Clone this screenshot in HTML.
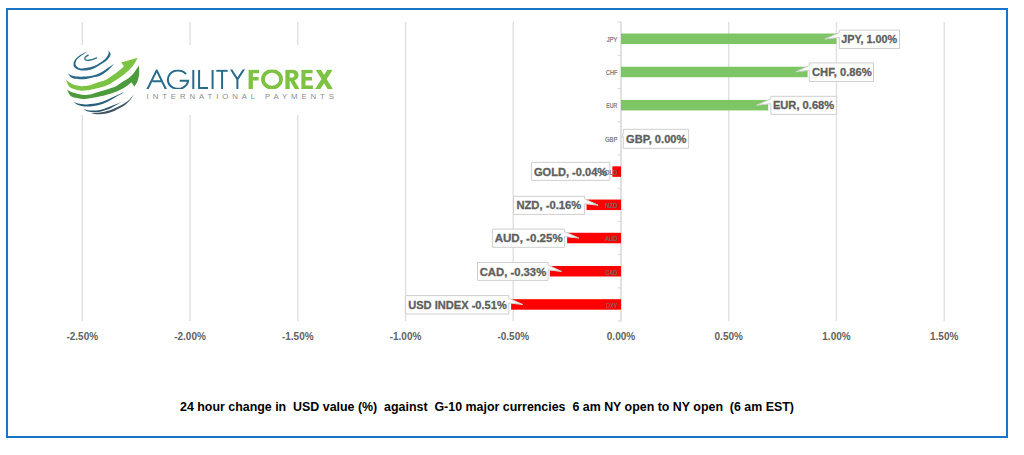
<!DOCTYPE html>
<html><head><meta charset="utf-8"><style>
html,body{margin:0;padding:0;background:#fff;}
body{width:1024px;height:455px;overflow:hidden;position:relative;}
svg{position:absolute;left:0;top:0;font-family:"Liberation Sans",sans-serif;}
</style></head><body>
<svg width="1024" height="455" viewBox="0 0 1024 455">
<rect x="0" y="0" width="1024" height="455" fill="#fff"/>
<rect x="81.60" y="22" width="1.4" height="299" fill="#e0e0e0"/>
<rect x="189.34" y="22" width="1.4" height="299" fill="#e0e0e0"/>
<rect x="297.08" y="22" width="1.4" height="299" fill="#e0e0e0"/>
<rect x="404.82" y="22" width="1.4" height="299" fill="#e0e0e0"/>
<rect x="512.56" y="22" width="1.4" height="299" fill="#e0e0e0"/>
<rect x="620.30" y="22" width="1.4" height="299" fill="#e0e0e0"/>
<rect x="728.04" y="22" width="1.4" height="299" fill="#e0e0e0"/>
<rect x="835.78" y="22" width="1.4" height="299" fill="#e0e0e0"/>
<rect x="943.52" y="22" width="1.4" height="299" fill="#e0e0e0"/>
<rect x="50" y="45" width="300" height="70" fill="#fff"/>
<rect x="620.5" y="21.5" width="1" height="300" fill="#d9d9d9"/>
<rect x="617.5" y="21.65" width="3.5" height="1" fill="#d9d9d9"/>
<rect x="617.5" y="54.86" width="3.5" height="1" fill="#d9d9d9"/>
<rect x="617.5" y="88.07" width="3.5" height="1" fill="#d9d9d9"/>
<rect x="617.5" y="121.28" width="3.5" height="1" fill="#d9d9d9"/>
<rect x="617.5" y="154.49" width="3.5" height="1" fill="#d9d9d9"/>
<rect x="617.5" y="187.70" width="3.5" height="1" fill="#d9d9d9"/>
<rect x="617.5" y="220.91" width="3.5" height="1" fill="#d9d9d9"/>
<rect x="617.5" y="254.12" width="3.5" height="1" fill="#d9d9d9"/>
<rect x="617.5" y="287.33" width="3.5" height="1" fill="#d9d9d9"/>
<rect x="617.5" y="320.54" width="3.5" height="1" fill="#d9d9d9"/>
<rect x="621.00" y="33.50" width="215.48" height="10.5" fill="#7ec566"/>
<rect x="621.00" y="66.72" width="186.61" height="10.5" fill="#7ec566"/>
<rect x="621.00" y="99.93" width="147.17" height="10.5" fill="#7ec566"/>
<rect x="612.38" y="166.34" width="8.62" height="10.5" fill="#ff0000"/>
<rect x="586.52" y="199.56" width="34.48" height="10.5" fill="#ff0000"/>
<rect x="567.13" y="232.77" width="53.87" height="10.5" fill="#ff0000"/>
<rect x="549.89" y="265.98" width="71.11" height="10.5" fill="#ff0000"/>
<rect x="511.11" y="299.19" width="109.89" height="10.5" fill="#ff0000"/>
<path d="M839.3,30.1 H899.5 V48.5 H839.3 V37.50 L824.88,39.00 L839.3,32.70 Z" fill="#fff" stroke="#cfcfcf" stroke-width="1"/>
<text x="841.2" y="43.05" font-size="11" font-weight="bold" fill="#5e5e5e" stroke="#5e5e5e" stroke-width="0.3" textLength="56.0" lengthAdjust="spacingAndGlyphs">JPY, 1.00%</text>
<path d="M809.3,62.9 H873.5 V81.5 H809.3 V70.30 L796.01,71.80 L809.3,65.50 Z" fill="#fff" stroke="#cfcfcf" stroke-width="1"/>
<text x="812.0" y="76.27" font-size="11" font-weight="bold" fill="#5e5e5e" stroke="#5e5e5e" stroke-width="0.3" textLength="59.6" lengthAdjust="spacingAndGlyphs">CHF, 0.86%</text>
<path d="M770.9,96.3 H836.6 V114.4 H770.9 V103.70 L756.57,105.20 L770.9,98.90 Z" fill="#fff" stroke="#cfcfcf" stroke-width="1"/>
<text x="772.9" y="109.48" font-size="11" font-weight="bold" fill="#5e5e5e" stroke="#5e5e5e" stroke-width="0.3" textLength="61.3" lengthAdjust="spacingAndGlyphs">EUR, 0.68%</text>
<path d="M623.3,129.3 H688.6 V148.3 H623.3 V136.70 L621.60,137.30 L623.3,133.90 Z" fill="#fff" stroke="#cfcfcf" stroke-width="1"/>
<text x="626.0" y="142.69" font-size="11" font-weight="bold" fill="#5e5e5e" stroke="#5e5e5e" stroke-width="0.3" textLength="60.4" lengthAdjust="spacingAndGlyphs">GBP, 0.00%</text>
<path d="M531.4,162.4 H609.9 V180.4 H531.4 Z" fill="#fff" stroke="#cfcfcf" stroke-width="1"/>
<text x="533.9" y="175.90" font-size="11" font-weight="bold" fill="#5e5e5e" stroke="#5e5e5e" stroke-width="0.3" textLength="73.3" lengthAdjust="spacingAndGlyphs">GOLD, -0.04%</text>
<path d="M513.5,196.3 H584.6 V198.90 L598.12,205.20 L584.6,203.70 V214.4 H513.5 Z" fill="#fff" stroke="#cfcfcf" stroke-width="1"/>
<text x="516.4" y="209.11" font-size="11" font-weight="bold" fill="#5e5e5e" stroke="#5e5e5e" stroke-width="0.3" textLength="64.8" lengthAdjust="spacingAndGlyphs">NZD, -0.16%</text>
<path d="M492.4,229.1 H564.6 V231.70 L578.73,238.00 L564.6,236.50 V247.3 H492.4 Z" fill="#fff" stroke="#cfcfcf" stroke-width="1"/>
<text x="494.7" y="242.32" font-size="11" font-weight="bold" fill="#5e5e5e" stroke="#5e5e5e" stroke-width="0.3" textLength="68.0" lengthAdjust="spacingAndGlyphs">AUD, -0.25%</text>
<path d="M477.5,262.5 H548.1 V265.10 L561.49,271.40 L548.1,269.90 V280.4 H477.5 Z" fill="#fff" stroke="#cfcfcf" stroke-width="1"/>
<text x="479.7" y="275.53" font-size="11" font-weight="bold" fill="#5e5e5e" stroke="#5e5e5e" stroke-width="0.3" textLength="66.5" lengthAdjust="spacingAndGlyphs">CAD, -0.33%</text>
<path d="M405.6,295.6 H508.8 V298.20 L522.71,304.50 L508.8,303.00 V314.0 H405.6 Z" fill="#fff" stroke="#cfcfcf" stroke-width="1"/>
<text x="408.2" y="308.74" font-size="11" font-weight="bold" fill="#5e5e5e" stroke="#5e5e5e" stroke-width="0.3" textLength="98.6" lengthAdjust="spacingAndGlyphs">USD INDEX -0.51%</text>
<text x="617.3" y="42.05" text-anchor="end" font-size="6.6" fill="#6e6e6e" stroke="#6e6e6e" stroke-width="0.2" textLength="10.5" lengthAdjust="spacingAndGlyphs">JPY</text>
<text x="617.3" y="75.27" text-anchor="end" font-size="6.6" fill="#6e6e6e" stroke="#6e6e6e" stroke-width="0.2" textLength="11.3" lengthAdjust="spacingAndGlyphs">CHF</text>
<text x="617.3" y="108.48" text-anchor="end" font-size="6.6" fill="#6e6e6e" stroke="#6e6e6e" stroke-width="0.2" textLength="11" lengthAdjust="spacingAndGlyphs">EUR</text>
<text x="617.3" y="141.69" text-anchor="end" font-size="6.6" fill="#6e6e6e" stroke="#6e6e6e" stroke-width="0.2" textLength="12.2" lengthAdjust="spacingAndGlyphs">GBP</text>
<text x="617.3" y="174.90" text-anchor="end" font-size="6.6" fill="#6e6e6e" stroke="#6e6e6e" stroke-width="0.2" textLength="17.5" lengthAdjust="spacingAndGlyphs">GOLD</text>
<text x="617.3" y="208.11" text-anchor="end" font-size="6.6" fill="#6e6e6e" stroke="#6e6e6e" stroke-width="0.2" textLength="12.2" lengthAdjust="spacingAndGlyphs">NZD</text>
<text x="617.3" y="241.32" text-anchor="end" font-size="6.6" fill="#6e6e6e" stroke="#6e6e6e" stroke-width="0.2" textLength="12" lengthAdjust="spacingAndGlyphs">AUD</text>
<text x="617.3" y="274.53" text-anchor="end" font-size="6.6" fill="#6e6e6e" stroke="#6e6e6e" stroke-width="0.2" textLength="11.8" lengthAdjust="spacingAndGlyphs">CAD</text>
<text x="617.3" y="307.74" text-anchor="end" font-size="6.6" fill="#6e6e6e" stroke="#6e6e6e" stroke-width="0.2" textLength="11" lengthAdjust="spacingAndGlyphs">DXY</text>
<text x="82.30" y="339.6" text-anchor="middle" font-size="10" font-weight="bold" fill="#626262">-2.50%</text>
<text x="190.04" y="339.6" text-anchor="middle" font-size="10" font-weight="bold" fill="#626262">-2.00%</text>
<text x="297.78" y="339.6" text-anchor="middle" font-size="10" font-weight="bold" fill="#626262">-1.50%</text>
<text x="405.52" y="339.6" text-anchor="middle" font-size="10" font-weight="bold" fill="#626262">-1.00%</text>
<text x="513.26" y="339.6" text-anchor="middle" font-size="10" font-weight="bold" fill="#626262">-0.50%</text>
<text x="621.00" y="339.6" text-anchor="middle" font-size="10" font-weight="bold" fill="#626262">0.00%</text>
<text x="728.74" y="339.6" text-anchor="middle" font-size="10" font-weight="bold" fill="#626262">0.50%</text>
<text x="836.48" y="339.6" text-anchor="middle" font-size="10" font-weight="bold" fill="#626262">1.00%</text>
<text x="944.22" y="339.6" text-anchor="middle" font-size="10" font-weight="bold" fill="#626262">1.50%</text>
<text x="180" y="410.8" font-size="11.9" font-weight="bold" fill="#000" textLength="614" lengthAdjust="spacingAndGlyphs" style="white-space:pre">24 hour change in  USD value (%)  against  G-10 major currencies  6 am NY open to NY open  (6 am EST)</text>
<g id="logo">
<path d="M88.2,55.2 C86,56.3 84.3,58 85,59.4 C86.3,61 91.5,60.6 96.6,57.9" fill="none" stroke="#2d6e8a" stroke-width="1.3" stroke-linecap="round"/>
<path d="M87.6,51.4 C86.50,51.92 82.93,53.32 81.00,54.50 C79.07,55.68 77.23,57.08 76.00,58.50 C74.77,59.92 73.83,61.52 73.60,63.00 C73.37,64.48 73.33,66.17 74.60,67.40 C75.87,68.63 78.17,70.15 81.20,70.40 C84.23,70.65 89.30,70.03 92.80,68.90 C96.30,67.77 99.73,65.17 102.20,63.60 C104.67,62.03 106.20,61.07 107.60,59.50 C109.00,57.93 110.52,55.73 110.60,54.20 C110.68,52.67 108.52,50.95 108.10,50.30 C108.18,50.85 109.02,52.23 108.60,53.60 C108.18,54.97 106.95,57.00 105.60,58.50 C104.25,60.00 102.68,61.25 100.50,62.60 C98.32,63.95 95.67,65.63 92.50,66.60 C89.33,67.57 84.17,68.47 81.50,68.40 C78.83,68.33 77.48,67.17 76.50,66.20 C75.52,65.23 75.25,64.00 75.60,62.60 C75.95,61.20 76.60,59.67 78.60,57.80 C80.60,55.93 86.10,52.47 87.60,51.40 Z" fill="#2a6a88"/>
<path d="M67.8,73.0 C68.25,73.63 69.30,75.83 70.50,76.80 C71.70,77.77 72.78,78.40 75.00,78.80 C77.22,79.20 80.83,79.43 83.80,79.20 C86.77,78.97 90.10,77.97 92.80,77.40 C95.50,76.83 97.52,76.93 100.00,75.80 C102.48,74.67 105.30,72.67 107.70,70.60 C110.10,68.53 113.28,64.60 114.40,63.40 C113.17,64.23 109.40,66.82 107.00,68.40 C104.60,69.98 102.37,71.73 100.00,72.90 C97.63,74.07 95.50,74.78 92.80,75.40 C90.10,76.02 86.77,76.47 83.80,76.60 C80.83,76.73 77.22,76.47 75.00,76.20 C72.78,75.93 71.70,75.53 70.50,75.00 C69.30,74.47 68.25,73.33 67.80,73.00 Z" fill="#2a6a88"/>
<path d="M65.9,79.2 C66.40,79.65 67.57,80.98 68.90,81.90 C70.23,82.82 72.05,84.02 73.90,84.70 C75.75,85.38 78.23,85.77 80.00,86.00 C81.77,86.23 82.83,86.23 84.50,86.10 C86.17,85.97 88.08,85.70 90.00,85.20 C91.92,84.70 93.33,84.00 96.00,83.10 C98.67,82.20 103.33,81.02 106.00,79.80 C108.67,78.58 109.90,77.25 112.00,75.80 C114.10,74.35 116.62,72.70 118.60,71.10 C120.58,69.50 123.02,67.02 123.90,66.20 L121.2,62.6 L137.6,57.8 C137.17,58.63 135.97,61.23 135.00,62.80 C134.03,64.37 133.43,65.40 131.80,67.20 C130.17,69.00 127.40,71.73 125.20,73.60 C123.00,75.47 120.80,76.93 118.60,78.40 C116.40,79.87 114.10,81.17 112.00,82.40 C109.90,83.63 108.67,84.77 106.00,85.80 C103.33,86.83 98.67,87.92 96.00,88.60 C93.33,89.28 92.00,89.60 90.00,89.90 C88.00,90.20 85.67,90.28 84.00,90.40 C82.33,90.52 81.68,90.83 80.00,90.60 C78.32,90.37 75.75,89.73 73.90,89.00 C72.05,88.27 70.23,87.83 68.90,86.20 C67.57,84.57 66.40,80.37 65.90,79.20 Z" fill="#7cc243"/>
<path d="M66.9,89.3 C67.52,89.72 68.88,91.05 70.60,91.80 C72.32,92.55 75.00,93.27 77.20,93.80 C79.40,94.33 81.67,94.87 83.80,95.00 C85.93,95.13 87.97,94.98 90.00,94.60 C92.03,94.22 93.33,93.50 96.00,92.70 C98.67,91.90 102.67,90.88 106.00,89.80 C109.33,88.72 113.35,87.45 116.00,86.20 C118.65,84.95 119.82,83.63 121.90,82.30 C123.98,80.97 126.52,79.73 128.50,78.20 C130.48,76.67 132.08,75.20 133.80,73.10 C135.52,71.00 137.97,66.85 138.80,65.60 C138.87,66.97 139.43,71.15 139.20,73.80 C138.97,76.45 138.20,79.37 137.40,81.50 C136.60,83.63 134.90,85.75 134.40,86.60 L131.3,82.2 C130.25,83.05 127.55,85.70 125.00,87.30 C122.45,88.90 119.17,90.53 116.00,91.80 C112.83,93.07 109.33,94.00 106.00,94.90 C102.67,95.80 98.67,96.65 96.00,97.20 C93.33,97.75 92.03,97.92 90.00,98.20 C87.97,98.48 85.93,98.93 83.80,98.90 C81.67,98.87 79.40,98.50 77.20,98.00 C75.00,97.50 72.32,97.35 70.60,95.90 C68.88,94.45 67.52,90.40 66.90,89.30 Z" fill="#4b9a3c"/>
<path d="M73.6,101.6 C74.17,102.07 74.77,103.57 77.00,104.40 C79.23,105.23 83.17,106.53 87.00,106.60 C90.83,106.67 95.83,106.03 100.00,104.80 C104.17,103.57 107.80,101.40 112.00,99.20 C116.20,97.00 123.00,92.87 125.20,91.60 C123.00,92.60 116.20,95.77 112.00,97.60 C107.80,99.43 104.17,101.47 100.00,102.60 C95.83,103.73 90.67,104.23 87.00,104.40 C83.33,104.57 80.23,104.07 78.00,103.60 C75.77,103.13 74.33,101.93 73.60,101.60 Z" fill="#2a5f7c"/>
<path d="M83.5,109.0 C84.25,109.42 86.08,110.97 88.00,111.50 C89.92,112.03 92.67,112.25 95.00,112.20 C97.33,112.15 99.17,112.00 102.00,111.20 C104.83,110.40 108.80,108.93 112.00,107.40 C115.20,105.87 119.67,102.90 121.20,102.00 C119.67,102.63 115.20,104.57 112.00,105.80 C108.80,107.03 104.83,108.63 102.00,109.40 C99.17,110.17 97.33,110.27 95.00,110.40 C92.67,110.53 89.92,110.43 88.00,110.20 C86.08,109.97 84.25,109.20 83.50,109.00 Z" fill="#2b5670"/>
<path d="M91,113.4 C92.50,113.53 96.83,114.37 100.00,114.20 C103.17,114.03 106.83,113.37 110.00,112.40 C113.17,111.43 116.33,109.77 119.00,108.40 C121.67,107.03 124.07,105.67 126.00,104.20 C127.93,102.73 129.33,101.20 130.60,99.60 C131.87,98.00 133.10,95.43 133.60,94.60 C132.93,95.40 131.10,97.97 129.60,99.40 C128.10,100.83 126.53,101.97 124.60,103.20 C122.67,104.43 120.60,105.57 118.00,106.80 C115.40,108.03 112.00,109.63 109.00,110.60 C106.00,111.57 103.00,112.13 100.00,112.60 C97.00,113.07 92.50,113.27 91.00,113.40 Z" fill="#3f5563"/>
<defs><clipPath id="capclip"><rect x="140" y="69.6" width="200" height="19.3"/></clipPath></defs>
<g clip-path="url(#capclip)" fill="none" stroke="#276a89" stroke-width="2">
<path d="M146.3,91.5 L156.7,70.4 L167.0,91.5" stroke-linejoin="miter" stroke-miterlimit="10"/>
<path d="M152.2,81.3 H161.3"/>
<path d="M186.0,74.0 A10.15,9.15 0 1 0 188.1,80.85 H179.7"/>
<path d="M193.3,70 V88.9"/>
<path d="M199.1,70 V87.9 H208"/>
<path d="M212.6,70 V88.9"/>
<path d="M216.3,70.7 H227.7 M222.1,70.7 V88.9"/>
<path d="M230.0,67.6 L237.4,79.4 L245.0,67.6 M237.4,79.2 V88.9"/>
</g>
<g fill="#7dc242" clip-path="url(#capclip)">
<path d="M248.6,69.7 H259.1 V73.2 H252.9 V77.1 H258.6 V80.5 H252.9 V89.1 H248.6 Z"/>
<ellipse cx="272" cy="79.3" rx="9.05" ry="8.35" fill="none" stroke="#7dc242" stroke-width="3.8"/>
<path d="M285.4,69.7 H292.6 C296.6,69.7 298.5,72.2 298.5,75.1 C298.5,77.8 296.9,79.8 294.4,80.4 L299.6,89.1 H294.8 L290.2,81 H289.7 V89.1 H285.4 Z M289.7,73.2 V77.4 H292.3 C293.7,77.4 294.4,76.4 294.4,75.3 C294.4,74.2 293.7,73.2 292.3,73.2 Z" fill-rule="evenodd"/>
<path d="M301.4,69.7 H312.6 V73.2 H305.5 V77.1 H312.0 V80.5 H305.5 V85.6 H312.9 V89.1 H301.4 Z"/>
<path d="M315.7,69.7 H320.9 L332.9,89.1 H327.7 Z"/>
<path d="M327.4,69.7 H332.6 L320.4,89.1 H315.1 Z"/>
</g>
<text x="146.6" y="99.2" font-size="7.8" fill="#8e8e8e" textLength="187.3" lengthAdjust="spacing">INTERNATIONAL PAYMENTS</text>
</g>

<rect x="7" y="9" width="1000" height="428" fill="none" stroke="#1a74c8" stroke-width="2"/>
</svg>
</body></html>
